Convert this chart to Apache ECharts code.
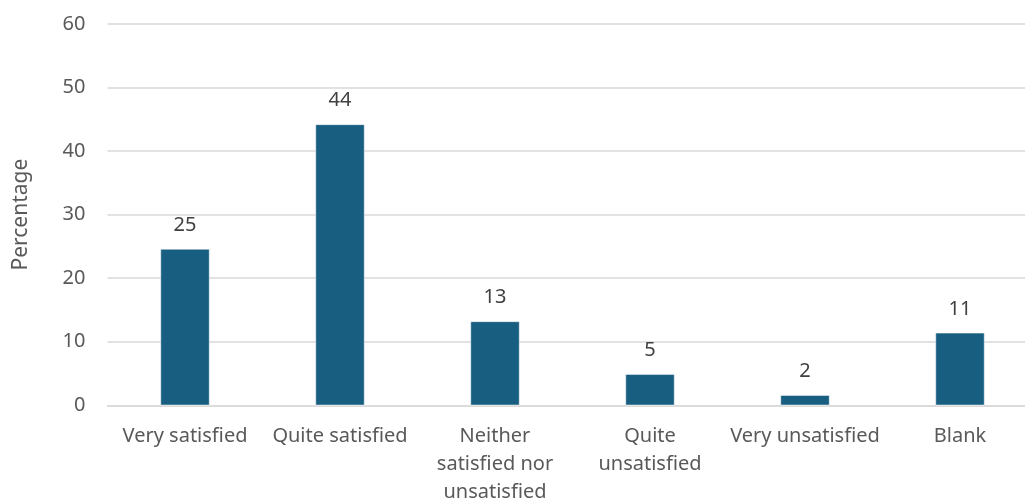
<!DOCTYPE html>
<html>
<head>
<meta charset="utf-8">
<script src="https://cdn.jsdelivr.net/npm/echarts@6/dist/echarts.min.js"></script>
<style>
  html, body { margin: 0; padding: 0; background: #fff; }
  #main { width: 1025px; height: 503px; }
</style>
</head>
<body>
<div id="main"></div>
<script>
// categories and values (percent)
var categories = ['Very satisfied', 'Quite satisfied', 'Neither\nsatisfied nor\nunsatisfied', 'Quite\nunsatisfied', 'Very unsatisfied', 'Blank'];
var percentages = [24.6, 44.2, 13.2, 4.9, 1.6, 11.4];
var yTicks = [0, 10, 20, 30, 40, 50, 60];

var chart = echarts.init(document.getElementById('main'));

var font = 'Noto Sans';
var option = {
  animation: false,
  grid: {
    left: 107.5,
    right: -12.5,
    top: 24,
    bottom: 97.7,
    outerBoundsMode: 'none'
  },
  xAxis: {
    type: 'category',
    data: categories,
    axisTick: { show: false },
    axisLine: { lineStyle: { color: '#d9d9d9', width: 1.5 } },
    axisLabel: {
      color: '#595959',
      fontFamily: font,
      fontSize: 20,
      lineHeight: 28,
      margin: 17,
      interval: 0
    }
  },
  yAxis: {
    type: 'value',
    min: yTicks[0],
    max: yTicks[yTicks.length - 1],
    interval: 10,
    name: 'Percentage',
    nameLocation: 'middle',
    nameGap: 76,
    nameRotate: 90,
    nameTextStyle: { color: '#595959', fontFamily: font, fontSize: 21 },
    axisLabel: { color: '#595959', fontFamily: font, fontSize: 20, margin: 22 },
    splitLine: { lineStyle: { color: '#d9d9d9', width: 1.5 } }
  },
  series: [
    {
      type: 'bar',
      data: percentages,
      barWidth: 49,
      itemStyle: { color: '#175e81', borderColor: '#ffffff', borderWidth: 0.5 },
      label: {
        show: true,
        position: 'top',
        distance: 14,
        color: '#404040',
        fontFamily: font,
        fontSize: 20,
        formatter: function (p) { return Math.round(p.value); }
      }
    }
  ]
};
chart.setOption(option);
</script>
</body>
</html>
